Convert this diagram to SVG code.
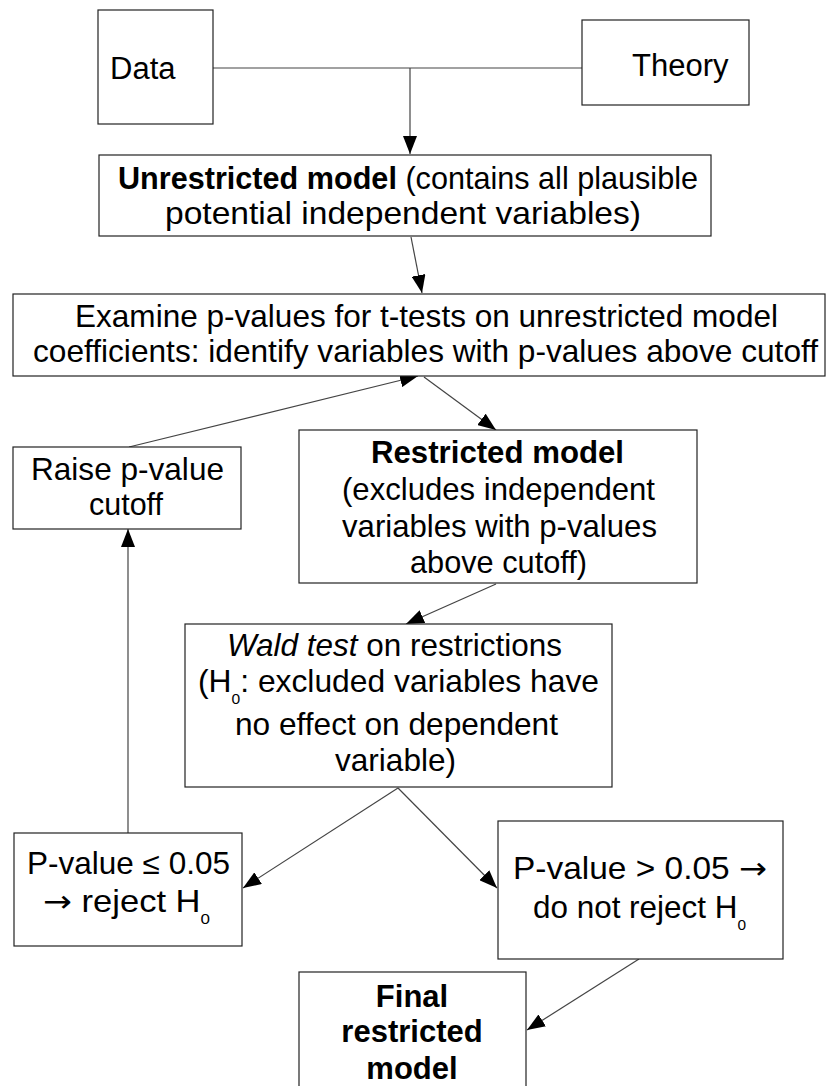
<svg xmlns="http://www.w3.org/2000/svg" width="827" height="1086" viewBox="0 0 827 1086">
<style>
.box{fill:#fff;stroke:#222;stroke-width:1.2}
.t{font-family:"Liberation Sans",Arial,sans-serif;font-size:31px;fill:#000}
.n{font-family:"Liberation Sans",Arial,sans-serif;font-size:30.5px;fill:#000}
.b{font-weight:bold}
.i{font-style:italic}
.sub{font-size:15px}
.ar{font-family:"DejaVu Sans",sans-serif}
.c{fill:none;stroke:#444;stroke-width:1.2}
</style>
<defs>
<marker id="ah" markerUnits="userSpaceOnUse" markerWidth="20" markerHeight="14" refX="18" refY="7" orient="auto">
<path d="M0,0 L18,7 L0,14 Z" fill="#000"/>
</marker>
</defs>
<rect width="827" height="1086" fill="#fff"/>
<g id="connectors">
<line class="c" x1="213" y1="68" x2="582" y2="68"/>
<line class="c" x1="410" y1="68" x2="410" y2="154" marker-end="url(#ah)"/>
<line class="c" x1="411" y1="237" x2="422" y2="293" marker-end="url(#ah)"/>
<line class="c" x1="129" y1="447" x2="418" y2="376" marker-end="url(#ah)"/>
<line class="c" x1="424" y1="377" x2="496" y2="430" marker-end="url(#ah)"/>
<line class="c" x1="496" y1="584" x2="406" y2="624" marker-end="url(#ah)"/>
<line class="c" x1="398" y1="788" x2="243" y2="888" marker-end="url(#ah)"/>
<line class="c" x1="398" y1="788" x2="497" y2="888" marker-end="url(#ah)"/>
<line class="c" x1="128" y1="833" x2="128" y2="529" marker-end="url(#ah)"/>
<line class="c" x1="639" y1="959" x2="527" y2="1030" marker-end="url(#ah)"/>
</g>
<g id="data">
<rect class="box" x="98" y="10" width="115" height="114"/>
<text class="t" x="110" y="79">Data</text>
</g>
<g id="theory">
<rect class="box" x="582" y="20" width="167" height="85"/>
<text class="t" x="632" y="76">Theory</text>
</g>
<g id="unrestricted">
<rect class="box" x="99" y="155" width="612" height="81"/>
<text class="n" x="118" y="189" textLength="580" lengthAdjust="spacingAndGlyphs"><tspan class="b">Unrestricted model</tspan> (contains all plausible</text>
<text class="n" x="165" y="224" textLength="476" lengthAdjust="spacingAndGlyphs">potential independent variables)</text>
</g>
<g id="examine">
<rect class="box" x="13" y="294" width="812" height="82"/>
<text class="n" x="75" y="327" textLength="703" lengthAdjust="spacingAndGlyphs">Examine p-values for t-tests on unrestricted model</text>
<text class="n" x="33" y="362" textLength="785" lengthAdjust="spacingAndGlyphs">coefficients: identify variables with p-values above cutoff</text>
</g>
<g id="raise">
<rect class="box" x="13" y="447" width="228" height="82"/>
<text class="n" x="31" y="480" textLength="193" lengthAdjust="spacingAndGlyphs">Raise p-value</text>
<text class="n" x="89" y="515" textLength="74" lengthAdjust="spacingAndGlyphs">cutoff</text>
</g>
<g id="restricted">
<rect class="box" x="299" y="430" width="398" height="153"/>
<text class="n b" x="371" y="463" textLength="253" lengthAdjust="spacingAndGlyphs">Restricted model</text>
<text class="n" x="342" y="500" textLength="313" lengthAdjust="spacingAndGlyphs">(excludes independent</text>
<text class="n" x="342" y="537" textLength="315" lengthAdjust="spacingAndGlyphs">variables with p-values</text>
<text class="n" x="410" y="573" textLength="177" lengthAdjust="spacingAndGlyphs">above cutoff)</text>
</g>
<g id="wald">
<rect class="box" x="185" y="624" width="427" height="163"/>
<text class="n" x="227" y="656" textLength="335" lengthAdjust="spacingAndGlyphs"><tspan class="i">Wald test</tspan> on restrictions</text>
<text class="n" x="198" y="692" textLength="401" lengthAdjust="spacingAndGlyphs">(H<tspan class="sub" dy="12">0</tspan><tspan dy="-12">: excluded variables have</tspan></text>
<text class="n" x="235" y="735" textLength="323" lengthAdjust="spacingAndGlyphs">no effect on dependent</text>
<text class="n" x="335" y="771" textLength="121" lengthAdjust="spacingAndGlyphs">variable)</text>
</g>
<g id="reject">
<rect class="box" x="14" y="833" width="228" height="113"/>
<text class="n" x="27" y="874" textLength="203" lengthAdjust="spacingAndGlyphs">P-value ≤ 0.05</text>
<text class="n" x="43" y="912" textLength="167" lengthAdjust="spacingAndGlyphs"><tspan class="ar">→</tspan> reject H<tspan class="sub" dy="12">0</tspan></text>
</g>
<g id="notreject">
<rect class="box" x="498" y="821" width="285" height="138"/>
<text class="n" x="513" y="879" textLength="254" lengthAdjust="spacingAndGlyphs">P-value &gt; 0.05 <tspan class="ar">→</tspan></text>
<text class="n" x="533" y="918" textLength="213" lengthAdjust="spacingAndGlyphs">do not reject H<tspan class="sub" dy="12">0</tspan></text>
</g>
<g id="final">
<rect class="box" x="299" y="972" width="227" height="130"/>
<text class="t b" x="412" y="1007" text-anchor="middle">Final</text>
<text class="t b" x="412" y="1042" text-anchor="middle">restricted</text>
<text class="t b" x="412" y="1079" text-anchor="middle">model</text>
</g>
</svg>
